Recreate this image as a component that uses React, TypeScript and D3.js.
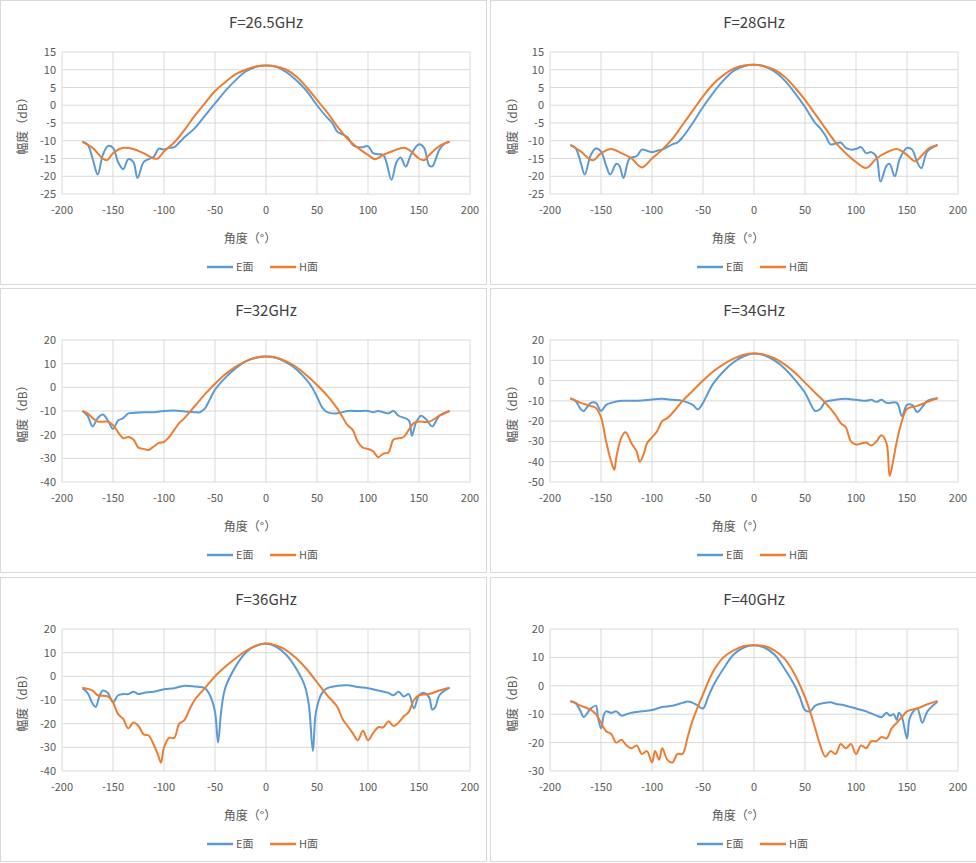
import React from "react";
import * as d3 from "d3";

type P = [number, number];
const titles = ["F=26.5GHz", "F=28GHz", "F=32GHz", "F=34GHz", "F=36GHz", "F=40GHz"];
const yDomains: [number, number, number][] = [[-25, 15, 5], [-25, 15, 5], [-40, 20, 10], [-50, 20, 10], [-40, 20, 10], [-30, 20, 10]];
const xTicks = [-200, -150, -100, -50, 0, 50, 100, 150, 200];

const e265: P[] = [[-180,-10.3],[-175,-11],[-170,-15],[-165,-19.5],[-160,-14],[-155,-11.5],[-150,-12],[-145,-16],[-140,-18],[-135,-15.2],[-130,-16],[-126,-20.5],[-120,-16],[-115,-15.2],[-110,-14.5],[-105,-12.2],[-100,-12.5],[-95,-12],[-90,-11.8],[-85,-10.5],[-80,-9],[-70,-6.5],[-60,-3],[-50,0.5],[-40,4],[-30,7],[-20,9.5],[-10,10.8],[0,11.2],[10,10.8],[20,9.3],[30,7],[40,4],[50,0],[60,-3.5],[65,-5],[70,-7.5],[75,-8.2],[80,-9],[85,-11.2],[90,-11.8],[95,-11.8],[100,-11.5],[105,-13.5],[110,-13.8],[115,-14],[118,-16],[123,-21],[128,-16],[132,-14.7],[137,-17.3],[142,-14],[150,-11],[155,-12],[160,-17],[163,-17.2],[170,-12.5],[175,-10.8],[180,-10.3]];
const h265: P[] = [[-180,-10.3],[-170,-12],[-160,-15],[-156,-15.5],[-150,-13.5],[-140,-12],[-130,-12.3],[-120,-13.5],[-110,-15],[-106,-15],[-100,-13],[-90,-10.5],[-80,-7],[-70,-3],[-60,0.5],[-50,4],[-40,6.5],[-30,8.7],[-20,10],[-10,10.9],[0,11.2],[10,10.9],[20,10],[30,8],[40,5],[50,1.5],[60,-2],[70,-6],[80,-9.5],[90,-12],[100,-14],[107,-15.2],[115,-14],[125,-12.8],[135,-12],[140,-12.5],[150,-15],[155,-15.5],[160,-14],[170,-11.5],[180,-10.3]];
const e28: P[] = [[-180,-11.2],[-175,-12],[-170,-16],[-166,-19.5],[-160,-14],[-155,-12.2],[-150,-13],[-145,-17],[-141,-19.5],[-135,-16.5],[-132,-17],[-128,-20.5],[-122,-15],[-115,-14.3],[-110,-12.5],[-105,-12.8],[-100,-13.2],[-95,-12.8],[-90,-12.5],[-80,-11],[-75,-10.5],[-70,-9],[-60,-5],[-50,-0.5],[-40,3.5],[-30,7],[-20,9.7],[-10,11],[0,11.4],[10,11],[20,9.5],[30,7],[40,3.5],[50,-0.5],[60,-5],[65,-6.5],[70,-8.5],[75,-11],[80,-10.8],[85,-10.5],[90,-12],[95,-12.5],[100,-12.3],[105,-11.8],[110,-13.5],[115,-13.2],[120,-14.5],[124,-21.5],[130,-17],[133,-16.5],[138,-20],[143,-15],[150,-12],[155,-12.5],[160,-16],[164,-17.7],[170,-13],[180,-11.2]];
const h28: P[] = [[-180,-11.2],[-170,-13],[-158,-15.5],[-150,-13.5],[-140,-12.3],[-130,-13.5],[-120,-15],[-110,-17.5],[-100,-15],[-90,-12.5],[-80,-9.5],[-70,-5.5],[-60,-1.5],[-50,2.5],[-40,6],[-30,8.5],[-20,10.3],[-10,11.2],[0,11.4],[10,11],[20,10],[30,8],[40,5],[50,1.5],[60,-2.5],[70,-6.5],[80,-10.5],[90,-13.5],[100,-16],[110,-17.7],[120,-15],[130,-13.3],[140,-12.3],[150,-14],[158,-15.8],[165,-14],[172,-12],[180,-11.2]];
const e32: P[] = [[-180,-10],[-175,-12],[-170,-16.5],[-165,-13],[-160,-11.5],[-155,-14],[-150,-17.5],[-145,-14],[-140,-13],[-135,-11],[-130,-10.8],[-120,-10.5],[-110,-10.5],[-100,-10],[-90,-9.8],[-80,-10.2],[-70,-10.5],[-65,-10.5],[-60,-9],[-55,-5],[-50,-1],[-40,4],[-30,8],[-20,11],[-10,12.5],[0,13],[10,12.5],[20,10.5],[30,7.5],[40,3],[45,0],[50,-4],[55,-8.5],[60,-10.5],[70,-11],[80,-10],[90,-10],[100,-10],[105,-10.5],[110,-10],[115,-10.5],[120,-11],[125,-10],[130,-12],[140,-14],[143,-20.5],[147,-15],[152,-12],[157,-13.5],[163,-16.5],[170,-12],[180,-10]];
const h32: P[] = [[-180,-10],[-175,-11],[-170,-13],[-165,-14.5],[-155,-14.5],[-150,-16],[-145,-19],[-140,-21.5],[-135,-21],[-130,-22],[-125,-25.5],[-120,-26],[-115,-26.5],[-110,-25],[-105,-23.5],[-100,-23],[-95,-21],[-90,-18],[-85,-15],[-80,-13],[-70,-8],[-60,-3],[-50,1.5],[-40,5.5],[-30,8.7],[-20,11],[-10,12.5],[0,13],[10,12.5],[20,11],[30,8.5],[40,5],[50,1],[60,-3.5],[70,-9],[80,-16],[85,-18],[90,-23],[95,-25.5],[100,-26],[105,-27],[110,-29.5],[115,-28],[120,-27.5],[125,-22],[130,-21.5],[135,-21],[140,-18],[145,-15],[150,-14.5],[160,-14.5],[170,-12],[180,-10]];
const e34: P[] = [[-180,-9],[-175,-10],[-170,-14],[-167,-15],[-160,-11],[-155,-11],[-150,-15],[-145,-12],[-140,-11],[-130,-10],[-120,-10],[-110,-9.8],[-100,-9.3],[-90,-9],[-80,-9.5],[-70,-10],[-60,-12],[-55,-14.2],[-50,-11],[-45,-6],[-40,-1.5],[-30,4.5],[-20,9],[-10,12],[0,13.3],[10,12.5],[20,10],[30,6],[40,0.5],[50,-6],[55,-11],[60,-15],[65,-14],[70,-10.5],[80,-9.5],[90,-9],[100,-9.5],[110,-10],[115,-9.5],[120,-10.5],[125,-9.5],[130,-11],[140,-11],[145,-17.5],[150,-12],[155,-12],[160,-15.5],[165,-13],[170,-10],[180,-8.7]];
const h34: P[] = [[-180,-8.7],[-170,-11],[-160,-12.5],[-155,-13.5],[-150,-18],[-145,-30],[-140,-40],[-137,-44],[-135,-38],[-130,-28],[-126,-25.5],[-120,-31],[-115,-35],[-112,-40],[-108,-36],[-105,-31],[-100,-28],[-95,-25],[-90,-20],[-85,-18.5],[-80,-16],[-70,-10],[-60,-5],[-50,0],[-40,4.5],[-30,8],[-20,10.8],[-10,12.7],[0,13.3],[10,12.8],[20,11],[30,8],[40,4],[50,-1],[60,-6],[70,-11],[80,-17],[85,-21],[90,-23],[95,-30],[100,-31.5],[105,-31],[110,-30.5],[115,-32],[120,-30],[125,-27],[130,-31],[133,-47],[137,-38],[140,-30],[145,-20],[150,-14],[160,-12.5],[170,-10.5],[180,-8.7]];
const e36: P[] = [[-180,-5],[-175,-7],[-170,-11.5],[-167,-13],[-163,-8],[-160,-6],[-155,-7],[-150,-11],[-145,-8],[-140,-7.5],[-135,-7.5],[-130,-6.5],[-125,-7.5],[-120,-7],[-110,-6.5],[-100,-5.5],[-90,-5],[-80,-4],[-70,-4.3],[-60,-5],[-55,-8],[-50,-15],[-47,-28],[-44,-15],[-40,-5],[-30,4],[-20,10],[-10,13],[0,13.8],[10,12.5],[20,9],[30,3],[38,-4],[42,-12],[46,-31.5],[49,-15],[55,-7],[60,-5],[70,-4],[80,-3.8],[90,-4.5],[100,-5],[110,-6],[120,-7],[125,-8],[130,-6.5],[135,-8.5],[140,-7.5],[145,-13.5],[150,-8],[155,-7],[160,-9],[163,-14],[166,-13],[170,-8],[180,-4.8]];
const h36: P[] = [[-180,-4.8],[-170,-6],[-165,-8],[-155,-8.5],[-150,-11],[-145,-16],[-140,-18],[-135,-22],[-130,-19.5],[-125,-21],[-120,-24.5],[-115,-25],[-110,-29],[-106,-33],[-103,-36.5],[-100,-30],[-95,-26],[-90,-26],[-85,-20],[-80,-18.5],[-75,-14],[-70,-10],[-60,-5],[-50,0],[-40,4],[-30,7.5],[-20,10.7],[-10,12.8],[0,14],[10,13],[20,11],[30,7.5],[40,3],[50,-2.5],[60,-8],[70,-13],[75,-18],[80,-21],[85,-24],[90,-27],[95,-23],[100,-27],[105,-24],[110,-21.5],[115,-21.5],[120,-19],[125,-21],[130,-19.5],[135,-17],[140,-15],[145,-10],[150,-8],[160,-7.5],[170,-6],[180,-4.8]];
const e40: P[] = [[-180,-5.5],[-175,-6],[-170,-9],[-167,-11],[-160,-8],[-155,-7],[-153,-11],[-150,-15],[-147,-10],[-145,-9],[-140,-9.5],[-135,-9],[-130,-10.5],[-125,-10],[-120,-9.5],[-110,-9],[-100,-8.5],[-90,-7.5],[-80,-7],[-70,-6],[-65,-5.5],[-60,-6],[-55,-7],[-50,-8],[-45,-4],[-40,0],[-30,6],[-20,11],[-10,13.5],[0,14.3],[10,13.5],[20,11],[30,6],[40,0],[45,-4],[50,-8.5],[55,-9],[60,-7],[70,-6],[75,-5.8],[80,-6.3],[90,-7],[100,-8],[110,-9],[120,-10.5],[125,-11],[130,-9.5],[133,-10.5],[137,-10],[140,-12],[142,-9.5],[145,-11],[150,-18.5],[153,-11],[160,-8],[165,-13],[170,-9],[180,-5.5]];
const h40: P[] = [[-180,-5.3],[-170,-7],[-160,-8.5],[-155,-10],[-150,-13],[-145,-16],[-140,-17],[-135,-20],[-130,-19],[-125,-21],[-120,-22],[-115,-21],[-110,-24],[-105,-23],[-100,-27],[-97,-23],[-93,-26],[-90,-22],[-85,-26],[-80,-27],[-75,-24],[-70,-24],[-65,-18],[-60,-12],[-50,-3],[-40,5],[-30,10],[-20,12.5],[-10,14],[0,14.3],[10,14],[20,12.5],[30,9.5],[40,4],[50,-4],[55,-9],[60,-15],[65,-21],[70,-25],[75,-23],[80,-24],[85,-20.5],[90,-22],[95,-20.5],[100,-24],[105,-21],[110,-22],[115,-19.5],[120,-19.5],[125,-18],[130,-18.5],[135,-15],[140,-13],[145,-11],[150,-9],[160,-8],[170,-6.5],[180,-5.3]];

const eSeries = [e265, e28, e32, e34, e36, e40];
const hSeries = [h265, h28, h32, h34, h36, h40];

const FONT = "'Noto Sans CJK SC', 'Noto Sans', sans-serif";
const BLUE = "#5b9bd5", ORANGE = "#ed7d31";
const panelX = [0, 490], panelY = [0, 288, 577];
const PW = 486, PH = 284;

function Panel({ i }: { i: number }) {
  const ox = panelX[i % 2], oy = panelY[Math.floor(i / 2)];
  const left = i % 2 === 0 ? 62 : 60;
  const x = d3.scaleLinear().domain([-200, 200]).range([left, left + 408]);
  const [lo, hi, step] = yDomains[i];
  const y = d3.scaleLinear().domain([lo, hi]).range([194, 52]);
  const yTicks = d3.range(lo, hi + 0.001, step);
  const line = d3.line<P>().x(d => x(d[0])).y(d => y(d[1])).curve(d3.curveCatmullRom.alpha(0.5));
  return (
    <g transform={`translate(${ox},${oy})`}>
      <rect x={0.5} y={0.5} width={PW} height={PH} fill="#fff" stroke="#d9d9d9" />
      <text x={left + 204} y={28} textAnchor="middle" fontSize={15} fill="#404040">{titles[i]}</text>
      {yTicks.map(t => <line key={"y" + t} x1={x(-200)} x2={x(200)} y1={y(t)} y2={y(t)} stroke="#d9d9d9" />)}
      {xTicks.map(t => <line key={"x" + t} x1={x(t)} x2={x(t)} y1={y(hi)} y2={y(lo)} stroke="#d9d9d9" />)}
      {yTicks.map(t => <text key={"yl" + t} x={x(-200) - 6} y={y(t) + 4} textAnchor="end" fontSize={11} fill="#595959">{t}</text>)}
      {xTicks.map(t => <text key={"xl" + t} x={x(t)} y={214} textAnchor="middle" fontSize={11} fill="#595959">{t}</text>)}
      <path d={line(eSeries[i]) || ""} fill="none" stroke={BLUE} strokeWidth={2} />
      <path d={line(hSeries[i]) || ""} fill="none" stroke={ORANGE} strokeWidth={2} />
      <text x={left + 188} y={243} textAnchor="middle" fontSize={12} fill="#595959">角度（°）</text>
      <text transform={`translate(27,123) rotate(-90)`} textAnchor="middle" fontSize={12} fill="#595959">幅度（dB）</text>
      <line x1={207} x2={233} y1={267} y2={267} stroke={BLUE} strokeWidth={2.5} />
      <text x={236} y={271} fontSize={11} fill="#595959">E面</text>
      <line x1={270} x2={296} y1={267} y2={267} stroke={ORANGE} strokeWidth={2.5} />
      <text x={299} y={271} fontSize={11} fill="#595959">H面</text>
    </g>
  );
}

export default function App() {
  return (
    <svg width={976} height={863} style={{ position: "absolute", left: 0, top: 0, fontFamily: FONT, background: "#fff" }}>
      {d3.range(6).map(i => <Panel key={i} i={i} />)}
    </svg>
  );
}
